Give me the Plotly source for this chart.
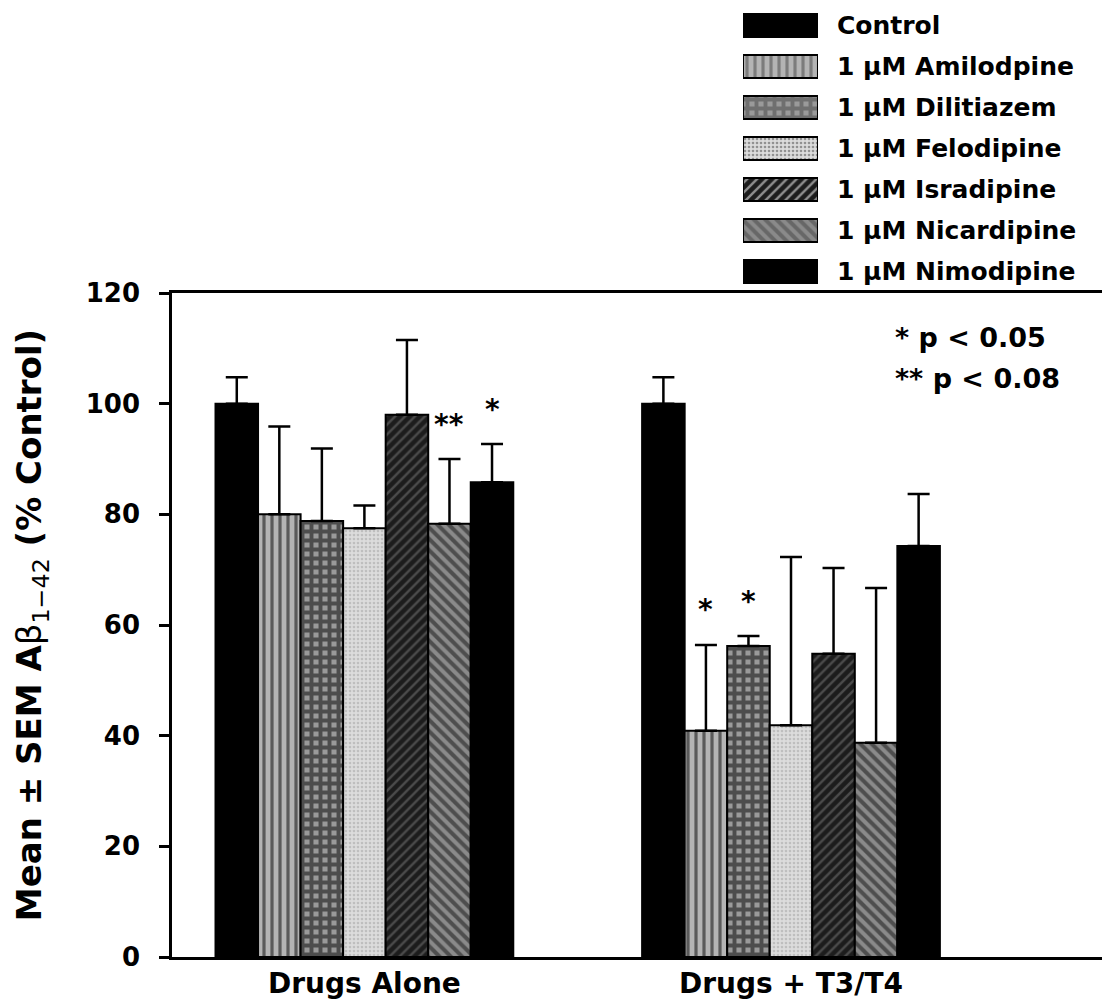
import plotly.graph_objects as go

# data
groups = ["Drugs Alone", "Drugs + T3/T4"]
drugs = [
    "Control",
    "1 µM Amilodpine",
    "1 µM Dilitiazem",
    "1 µM Felodipine",
    "1 µM Isradipine",
    "1 µM Nicardipine",
    "1 µM Nimodipine",
]
control = [100.0, 100.0]
amilodpine = [80.0, 40.9]
dilitiazem = [78.8, 56.2]
felodipine = [77.5, 41.9]
isradipine = [98.0, 54.8]
nicardipine = [78.3, 38.7]
nimodipine = [85.8, 74.3]

control_sem = [4.8, 4.8]
amilodpine_sem = [15.9, 15.5]
dilitiazem_sem = [13.1, 1.8]
felodipine_sem = [4.1, 30.4]
isradipine_sem = [13.5, 15.5]
nicardipine_sem = [11.7, 28.0]
nimodipine_sem = [6.9, 9.4]

# (group index, drug index, label)
stars = [(0, 5, "**"), (0, 6, "*"), (1, 1, "*"), (1, 2, "*")]
p_notes = ["* p < 0.05", "** p < 0.08"]

means = [control, amilodpine, dilitiazem, felodipine, isradipine, nicardipine, nimodipine]
sems = [control_sem, amilodpine_sem, dilitiazem_sem, felodipine_sem,
        isradipine_sem, nicardipine_sem, nimodipine_sem]

# fill styles (shape, bg, fg, size, solidity)
styles = [
    ("", "#000000", "#000000", 8, 0.5),
    ("|", "#b4b4b4", "#000000", 8, 0.4),
    ("+", "#9a9a9a", "#000000", 9, 0.68),
    (".", "#dcdcdc", "#a0a0a0", 4, 0.35),
    ("/", "#1c1c1c", "#7a7a7a", 7, 0.35),
    ("\\", "#8a8a8a", "#111111", 8, 0.5),
    ("", "#000000", "#000000", 8, 0.5),
]

FONT = "DejaVu Sans"
BARGAP = 0.302

fig = go.Figure()

for name, vals, err, st in zip(drugs, means, sems, styles):
    shape, bg, fg, size, solid = st
    fig.add_trace(
        go.Bar(
            x=groups,
            y=vals,
            name=name,
            marker=dict(
                color=bg,
                line=dict(color="black", width=2),
                pattern=dict(shape=shape, bgcolor=bg, fgcolor=fg,
                             size=size, solidity=solid),
            ),
            error_y=dict(type="data", symmetric=False, array=err,
                         arrayminus=[0] * len(err), color="black",
                         thickness=2.5, width=11),
            showlegend=False,
        )
    )

# legend drawn as a small bar chart so the keys keep their wide boxes
fig.add_trace(
    go.Bar(
        x=[1] * len(drugs),
        y=drugs,
        orientation="h",
        width=0.56,
        xaxis="x2",
        yaxis="y2",
        marker=dict(
            color=[s[1] for s in styles],
            line=dict(color="black", width=2),
            pattern=dict(
                shape=[s[0] for s in styles],
                bgcolor=[s[1] for s in styles],
                fgcolor=[s[2] for s in styles],
                size=[s[3] for s in styles],
                solidity=[s[4] for s in styles],
            ),
        ),
        showlegend=False,
        hoverinfo="skip",
    )
)

annotations = []
for name in drugs:
    annotations.append(dict(
        x=0.713, xref="paper", y=name, yref="y2", text=name,
        xanchor="left", yanchor="middle", showarrow=False,
        font=dict(family=FONT, size=25, color="black", weight="bold"),
    ))

bar_w = (1 - BARGAP) / len(drugs)
for g, d, label in stars:
    annotations.append(dict(
        x=g + (d - 3) * bar_w, xref="x", y=means[d][g] + sems[d][g], yref="y",
        text=label, showarrow=False, yanchor="middle", yshift=35,
        font=dict(family=FONT, size=28, color="black", weight="bold"),
    ))

for i, note in enumerate(p_notes):
    annotations.append(dict(
        x=0.775, xref="paper", y=112.0 - 7.4 * i, yref="y", text=note,
        xanchor="left", yanchor="middle", showarrow=False,
        font=dict(family=FONT, size=27, color="black", weight="bold"),
    ))

fig.update_layout(
    width=1102,
    height=1003,
    margin=dict(l=172, r=0, t=0, b=46, autoexpand=False),
    paper_bgcolor="white",
    plot_bgcolor="white",
    barmode="group",
    bargap=BARGAP,
    bargroupgap=0,
    annotations=annotations,
    xaxis=dict(
        type="category",
        range=[-0.451, 1.729],
        automargin=False,
        showline=True, linecolor="black", linewidth=2.5, mirror=True,
        showgrid=False, ticks="",
        tickfont=dict(family=FONT, size=28, color="black", weight="bold"),
    ),
    yaxis=dict(
        domain=[0, 0.6938],
        range=[0, 120], dtick=20,
        automargin=False,
        showline=True, linecolor="black", linewidth=2.5,
        showgrid=False, zeroline=False,
        ticks="outside", ticklen=10, tickwidth=2.5, tickcolor="black",
        ticklabelstandoff=14,
        tickfont=dict(family=FONT, size=26, color="black", weight="bold"),
        title=dict(
            text="<b>Mean ± SEM A</b>β<sub>1−42</sub><b> (% Control)</b>",
            font=dict(family=FONT, size=34, color="black"),
            standoff=34,
        ),
    ),
    xaxis2=dict(domain=[0.614, 0.6946], anchor="y2", range=[0, 1],
                visible=False, automargin=False),
    yaxis2=dict(domain=[0.6949, 0.9948], anchor="x2", type="category",
                autorange="reversed", visible=False, automargin=False),
)

fig.write_html("out.html", config={"displayModeBar": False},
               post_script="document.body.style.margin='0';")
